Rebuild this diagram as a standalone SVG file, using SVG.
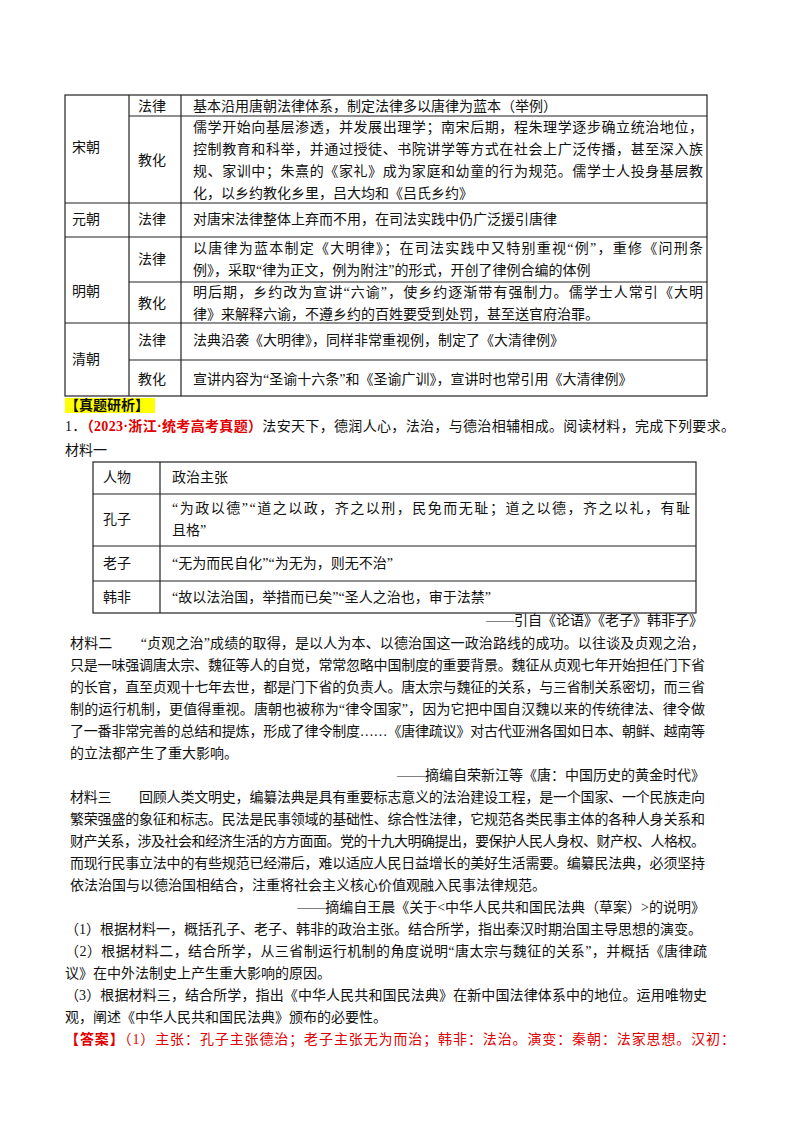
<svg xmlns="http://www.w3.org/2000/svg" width="800" height="1132" viewBox="0 0 800 1132">
<style>
text{font-family:"Liberation Serif","Noto Sans CJK SC",serif;font-size:14px;fill:#111;dominant-baseline:central}
.l{stroke:#222;stroke-width:1.2;fill:none}
.r{fill:#e00000}
</style>
<rect width="800" height="1132" fill="#fff"/>
<g id="table1">
<rect class="l" x="65" y="95" width="642" height="301"/>
<path class="l" d="M129 95V396M181 95V396M129 116H707M65 203H707M65 237H707M129 282H707M65 323H707M129 360H707"/>
<text x="72" y="147">宋朝</text><text x="72" y="219">元朝</text><text x="72" y="291">明朝</text><text x="72" y="359">清朝</text>
<text x="138" y="106">法律</text><text x="138" y="160">教化</text><text x="138" y="219">法律</text><text x="138" y="259">法律</text><text x="138" y="303">教化</text><text x="138" y="340">法律</text><text x="138" y="379">教化</text>
<text x="193" y="106">基本沿用唐朝法律体系，制定法律多以唐律为蓝本（举例）</text>
<text x="193" y="127" textLength="510" lengthAdjust="spacing">儒学开始向基层渗透，并发展出理学；南宋后期，程朱理学逐步确立统治地位，</text>
<text x="193" y="149" textLength="510" lengthAdjust="spacing">控制教育和科举，并通过授徒、书院讲学等方式在社会上广泛传播，甚至深入族</text>
<text x="193" y="171" textLength="510" lengthAdjust="spacing">规、家训中；朱熹的《家礼》成为家庭和幼童的行为规范。儒学士人投身基层教</text>
<text x="193" y="193">化，以乡约教化乡里，吕大均和《吕氏乡约》</text>
<text x="193" y="219">对唐宋法律整体上弃而不用，在司法实践中仍广泛援引唐律</text>
<text x="193" y="248" textLength="510" lengthAdjust="spacing">以唐律为蓝本制定《大明律》；在司法实践中又特别重视“例”，重修《问刑条</text>
<text x="193" y="270">例》，采取“律为正文，例为附注”的形式，开创了律例合编的体例</text>
<text x="193" y="292" textLength="510" lengthAdjust="spacing">明后期，乡约改为宣讲“六谕”，使乡约逐渐带有强制力。儒学士人常引《大明</text>
<text x="193" y="314">律》来解释六谕，不遵乡约的百姓要受到处罚，甚至送官府治罪。</text>
<text x="193" y="340">法典沿袭《大明律》，同样非常重视例，制定了《大清律例》</text>
<text x="193" y="379">宣讲内容为“圣谕十六条”和《圣谕广训》，宣讲时也常引用《大清律例》</text>
</g>
<rect x="65" y="398" width="90" height="15" fill="#ffff00"/>
<text x="65" y="405" style="font-weight:bold">【真题研析】</text>
<text x="65" y="426" textLength="670" lengthAdjust="spacing">1．<tspan class="r" style="font-weight:bold">（2023·浙江·统考高考真题）</tspan>法安天下，德润人心，法治，与德治相辅相成。阅读材料，完成下列要求。</text>
<text x="65" y="450">材料一</text>
<g id="table2">
<rect class="l" x="93" y="462" width="603" height="151"/>
<path class="l" d="M160 462V613M93 494H696M93 546H696M93 581H696"/>
<text x="103" y="477">人物</text><text x="103" y="519">孔子</text><text x="103" y="563">老子</text><text x="103" y="597">韩非</text>
<text x="172" y="477">政治主张</text>
<text x="172" y="508" textLength="518" lengthAdjust="spacing">“为政以德”“道之以政，齐之以刑，民免而无耻；道之以德，齐之以礼，有耻</text>
<text x="172" y="530">且格”</text>
<text x="172" y="563">“无为而民自化”“为无为，则无不治”</text>
<text x="172" y="597">“故以法治国，举措而已矣”“圣人之治也，审于法禁”</text>
</g>
<g id="body">
<text x="703" y="620" text-anchor="end">——引自《论语》《老子》韩非子》</text>
<text x="70" y="643" textLength="635" lengthAdjust="spacing">材料二　　“贞观之治”成绩的取得，是以人为本、以德治国这一政治路线的成功。以往谈及贞观之治，</text>
<text x="70" y="665" textLength="635" lengthAdjust="spacing">只是一味强调唐太宗、魏征等人的自觉，常常忽略中国制度的重要背景。魏征从贞观七年开始担任门下省</text>
<text x="70" y="687" textLength="635" lengthAdjust="spacing">的长官，直至贞观十七年去世，都是门下省的负责人。唐太宗与魏征的关系，与三省制关系密切，而三省</text>
<text x="70" y="709" textLength="635" lengthAdjust="spacing">制的运行机制，更值得重视。唐朝也被称为“律令国家”，因为它把中国自汉魏以来的传统律法、律令做</text>
<text x="70" y="731" textLength="635" lengthAdjust="spacing">了一番非常完善的总结和提炼，形成了律令制度……《唐律疏议》对古代亚洲各国如日本、朝鲜、越南等</text>
<text x="70" y="753">的立法都产生了重大影响。</text>
<text x="705" y="775" text-anchor="end">——摘编自荣新江等《唐：中国历史的黄金时代》</text>
<text x="70" y="797" textLength="635" lengthAdjust="spacing">材料三　　回顾人类文明史，编纂法典是具有重要标志意义的法治建设工程，是一个国家、一个民族走向</text>
<text x="70" y="819" textLength="635" lengthAdjust="spacing">繁荣强盛的象征和标志。民法是民事领域的基础性、综合性法律，它规范各类民事主体的各种人身关系和</text>
<text x="70" y="841" textLength="635" lengthAdjust="spacing">财产关系，涉及社会和经济生活的方方面面。党的十九大明确提出，要保护人民人身权、财产权、人格权。</text>
<text x="70" y="863" textLength="635" lengthAdjust="spacing">而现行民事立法中的有些规范已经滞后，难以适应人民日益增长的美好生活需要。编纂民法典，必须坚持</text>
<text x="70" y="885">依法治国与以德治国相结合，注重将社会主义核心价值观融入民事法律规范。</text>
<text x="705" y="907" text-anchor="end">——摘编自王晨《关于&lt;中华人民共和国民法典（草案）&gt;的说明》</text>
<text x="65" y="929">（1）根据材料一，概括孔子、老子、韩非的政治主张。结合所学，指出秦汉时期治国主导思想的演变。</text>
<text x="65" y="951" textLength="642" lengthAdjust="spacing">（2）根据材料二，结合所学，从三省制运行机制的角度说明“唐太宗与魏征的关系”，并概括《唐律疏</text>
<text x="65" y="973">议》在中外法制史上产生重大影响的原因。</text>
<text x="65" y="995" textLength="642" lengthAdjust="spacing">（3）根据材料三，结合所学，指出《中华人民共和国民法典》在新中国法律体系中的地位。运用唯物史</text>
<text x="65" y="1017">观，阐述《中华人民共和国民法典》颁布的必要性。</text>
<text x="65" y="1039" class="r" textLength="670" lengthAdjust="spacing"><tspan style="font-weight:bold">【答案】</tspan>（1）主张：孔子主张德治；老子主张无为而治；韩非：法治。演变：秦朝：法家思想。汉初：</text>
</g>
</svg>
